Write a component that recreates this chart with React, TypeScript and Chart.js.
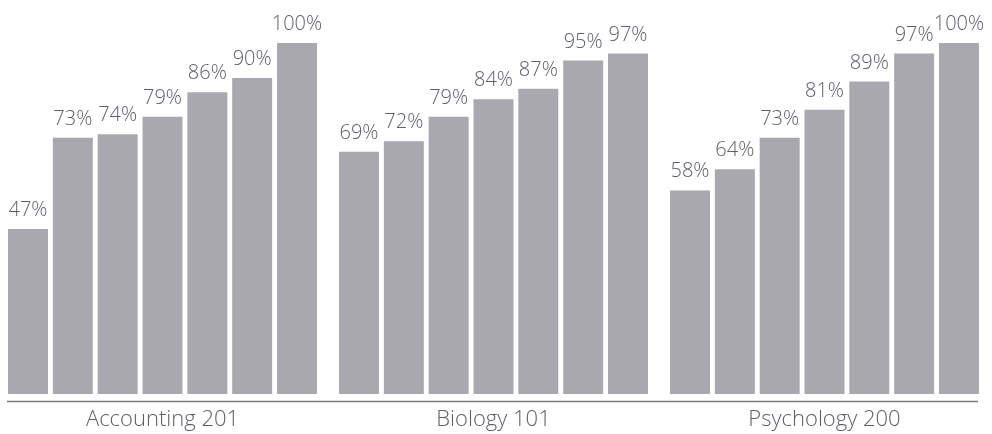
import React, { useEffect, useRef } from "react";
import { Chart, registerables } from "chart.js";

Chart.register(...registerables);

const categories = ["Accounting 201", "Biology 101", "Psychology 200"];
const series1 = [47, 69, 58];
const series2 = [73, 72, 64];
const series3 = [74, 79, 73];
const series4 = [79, 84, 81];
const series5 = [86, 87, 89];
const series6 = [90, 95, 97];
const series7 = [100, 97, 100];
const allSeries = [series1, series2, series3, series4, series5, series6, series7];

const BAR_COLOR = "#a9a8ae";
const TEXT_COLOR = "#5d5f68";
const FONT_FAMILY = "'Open Sans', Lato, sans-serif";

const valueLabels = {
  id: "valueLabels",
  afterDatasetsDraw(chart: any) {
    const ctx = chart.ctx;
    ctx.save();
    ctx.fillStyle = TEXT_COLOR;
    ctx.font = `300 20px ${FONT_FAMILY}`;
    ctx.textAlign = "center";
    ctx.textBaseline = "alphabetic";
    chart.data.datasets.forEach((ds: any, i: number) => {
      const meta = chart.getDatasetMeta(i);
      meta.data.forEach((el: any, j: number) => {
        ctx.fillText(`${ds.data[j]}%`, el.x, el.y - 13);
      });
    });
    ctx.restore();
  },
};

const axisLine = {
  id: "axisLine",
  afterDraw(chart: any) {
    const { ctx, chartArea } = chart;
    ctx.save();
    ctx.strokeStyle = "#7b7c82";
    ctx.lineWidth = 1.5;
    ctx.beginPath();
    ctx.moveTo(chartArea.left + 10, chartArea.bottom + 7.5);
    ctx.lineTo(chartArea.right - 12, chartArea.bottom + 7.5);
    ctx.stroke();
    ctx.restore();
  },
};

export default function App() {
  const ref = useRef<HTMLCanvasElement | null>(null);

  useEffect(() => {
    document.body.style.margin = "0";
    document.body.style.overflow = "hidden";
    if (!ref.current) return;
    const chart = new Chart(ref.current, {
      type: "bar",
      data: {
        labels: categories,
        datasets: allSeries.map((data, i) => ({
          label: `Series ${i + 1}`,
          data,
          backgroundColor: BAR_COLOR,
          borderWidth: 0,
          categoryPercentage: 0.948,
          barPercentage: 0.892,
        })),
      },
      options: {
        animation: false,
        responsive: false,
        maintainAspectRatio: false,
        layout: { padding: { top: 43, left: 0, right: 0, bottom: 0 } },
        plugins: {
          legend: { display: false },
          tooltip: { enabled: false },
        },
        scales: {
          x: {
            grid: { display: false, drawTicks: false },
            border: { display: false },
            ticks: {
              color: TEXT_COLOR,
              font: { family: FONT_FAMILY, size: 22, weight: "300" as any },
              padding: 13,
            },
            afterFit(scale: any) {
              scale.height = 40;
            },
          },
          y: {
            display: false,
            min: 0,
            max: 100,
          },
        },
      },
      plugins: [valueLabels, axisLine],
    });
    return () => chart.destroy();
  }, []);

  return (
    <div style={{ position: "relative", left: -3, width: 993, height: 434 }}>
      <canvas ref={ref} width={993} height={434} style={{ width: 993, height: 434 }} />
    </div>
  );
}
